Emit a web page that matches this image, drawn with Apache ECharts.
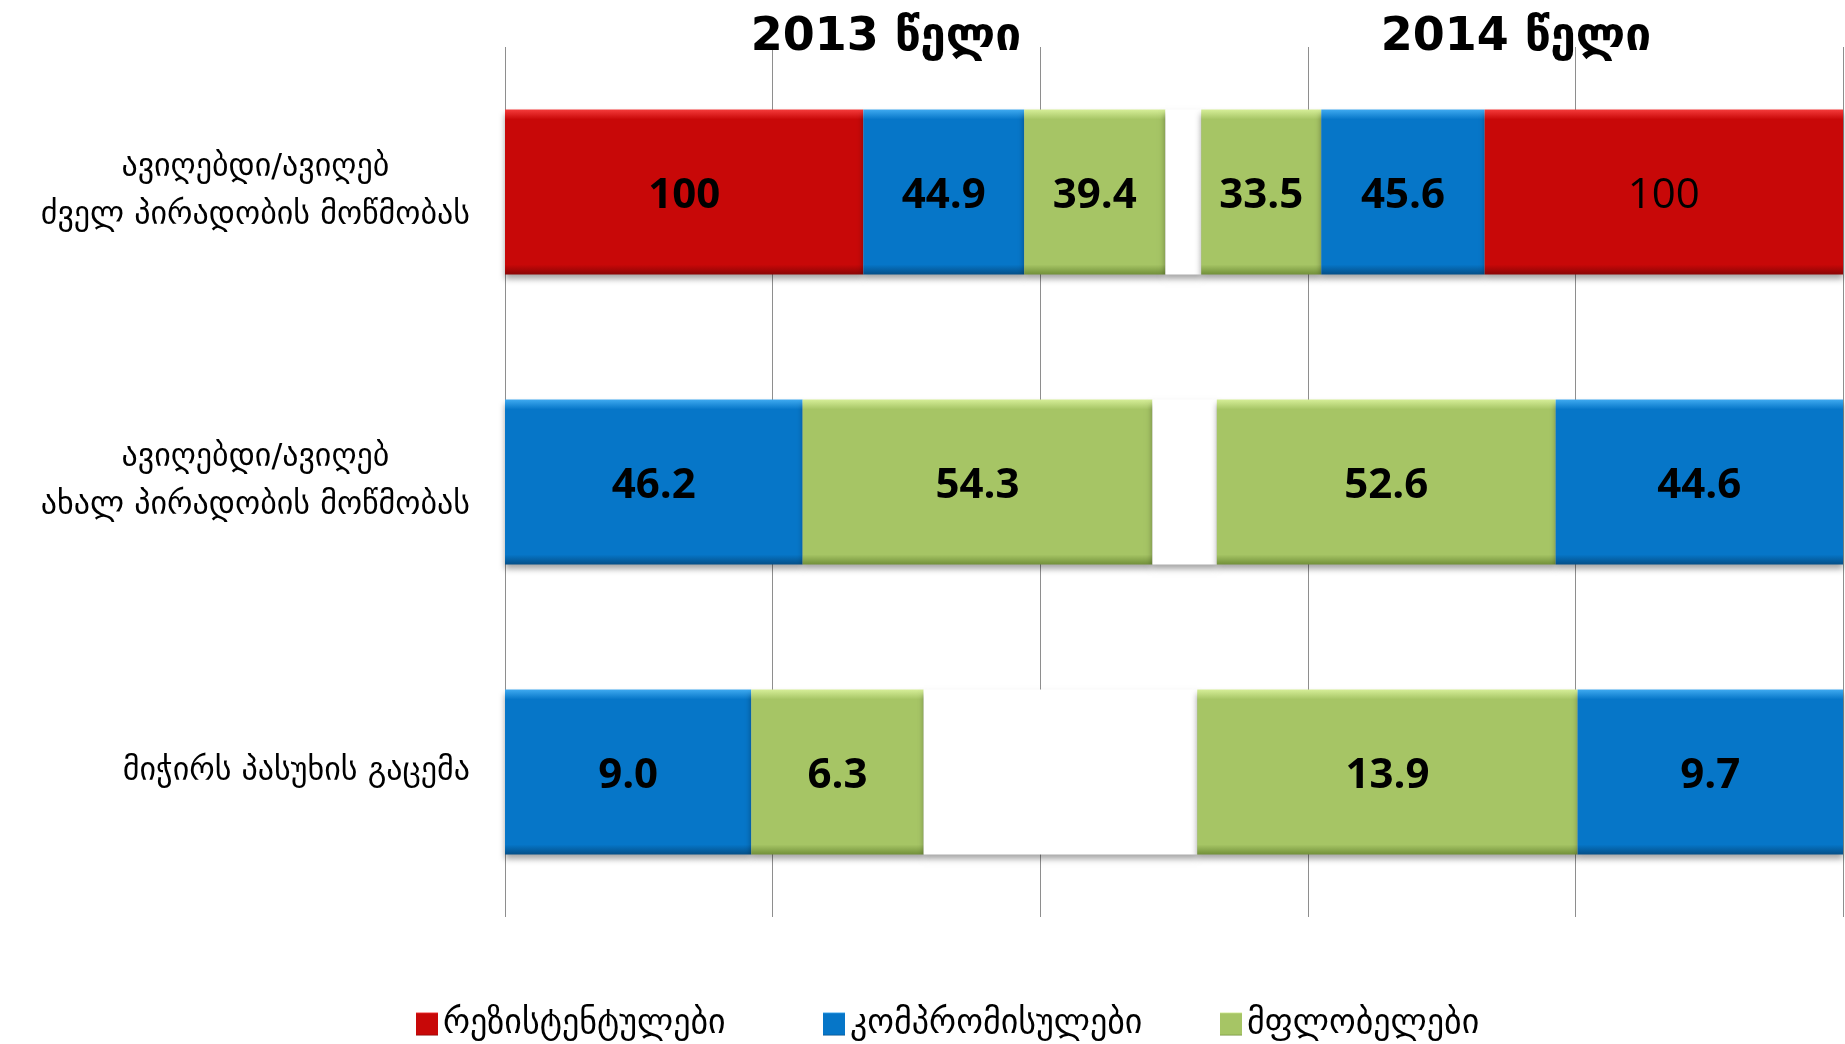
<!DOCTYPE html>
<html><head><meta charset="utf-8">
<script src="https://cdn.jsdelivr.net/npm/echarts@6/dist/echarts.min.js"></script>
<style>html,body{margin:0;padding:0;background:#fff}#c{width:1845px;height:1044px}</style>
</head><body><div id="c"></div>
<script>
// ---- data ----
const categories = [
  'ავიღებდი/ავიღებ\nძველ პირადობის მოწმობას',
  'ავიღებდი/ავიღებ\nახალ პირადობის მოწმობას',
  'მიჭირს პასუხის გაცემა'
];
const seriesNames = ['რეზისტენტულები', 'კომპრომისულები', 'მფლობელები'];
const yearTitles = ['2013 წელი', '2014 წელი'];
const resist2013 = [100, null, null];
const comp2013   = [44.9, 46.2, 9.0];
const owner2013  = [39.4, 54.3, 6.3];
const gapValues  = [10, 10, 10];
const owner2014  = [33.5, 52.6, 13.9];
const comp2014   = [45.6, 44.6, 9.7];
const resist2014 = [100, null, null];
const gridTicks  = [0, 20, 40, 60, 80, 100];

// ---- styles ----
const GEO = "'DejaVu Sans', sans-serif";
const NUM = "'Open Sans', 'DejaVu Sans', sans-serif";
function grad(top, base, bottom) {
  return new echarts.graphic.LinearGradient(0, 0, 0, 1, [
    {offset: 0, color: top}, {offset: 0.06, color: base},
    {offset: 0.94, color: base}, {offset: 1, color: bottom}
  ]);
}
const colors = {
  r: grad('#F53B3B', '#C80808', '#8A0505'),
  b: grad('#3FAAF0', '#0676C8', '#044F88'),
  g: grad('#D6EE98', '#A6C565', '#72903A'),
  w: '#ffffff'
};
const shadow = {shadowBlur: 6, shadowColor: 'rgba(0,0,0,0.35)', shadowOffsetY: 4};

const plotLeft = 505, plotWidth = 1338, plotTop = 47, band = 290, barH = 165;

const grids = [{left: plotLeft, width: plotWidth, top: plotTop, height: band * 3}];
const xAxes = [{gridIndex: 0, type: 'value', min: gridTicks[0], max: gridTicks[gridTicks.length - 1],
  interval: gridTicks[1] - gridTicks[0], axisLabel: {show: false}, axisLine: {show: false},
  axisTick: {show: false}, splitLine: {show: true, lineStyle: {color: '#8e8e8e', width: 1}}}];
const yAxes = [{gridIndex: 0, type: 'category', data: [''], show: false}];
const series = [];

const rowSeq = [
  [resist2013, 0, 'r', true], [comp2013, 1, 'b', true], [owner2013, 2, 'g', true],
  [gapValues, -1, 'w', false],
  [owner2014, 2, 'g', true], [comp2014, 1, 'b', true], [resist2014, 0, 'r', true]
];

categories.forEach((cat, i) => {
  const gi = i + 1;
  let total = 0;
  rowSeq.forEach(s => { if (s[0][i] != null) total += s[0][i]; });
  grids.push({left: plotLeft, width: plotWidth, top: plotTop + band * i, height: band});
  xAxes.push({gridIndex: gi, type: 'value', min: 0, max: total, show: false, splitLine: {show: false}});
  yAxes.push({gridIndex: gi, type: 'category', data: [cat],
    axisLine: {show: false}, axisTick: {show: false},
    axisLabel: {
      align: 'right', margin: 35, color: '#000',
      formatter: v => v.split('\n').map(l => '{a|' + l + '}').join('\n'),
      rich: {a: {align: 'center', fontSize: 32, lineHeight: 48, fontFamily: GEO, color: '#000'}}
    }});
  rowSeq.forEach((s, k) => {
    const v = s[0][i];
    if (v == null) return;
    const isGap = s[1] < 0;
    const normalWeight = (k === 6 && i === 0); // 2014 "100" label is not bold in the original
    series.push({
      type: 'bar', name: isGap ? 'gap' : seriesNames[s[1]],
      xAxisIndex: gi, yAxisIndex: gi, stack: 'row' + i, barWidth: barH,
      data: [v], silent: isGap,
      itemStyle: Object.assign({color: colors[s[2]]}, shadow),
      label: {show: s[3], position: 'inside', offset: [0, 4], color: '#000', fontFamily: NUM,
        fontSize: 42, fontWeight: normalWeight ? 'normal' : 'bold',
        formatter: p => (p.value === 100 ? '100' : p.value.toFixed(1))},
      emphasis: {disabled: true}
    });
  });
});

const legendX = [416, 823, 1220];
const legends = seriesNames.map((n, i) => ({
  data: [n], left: legendX[i], top: 1007, padding: 0, itemWidth: 22, itemHeight: 23, itemGap: 8,
  icon: 'rect', textStyle: {fontSize: 34, fontFamily: GEO, color: '#000'}, selectedMode: false
}));

const titleX = [881, 1511];
const titles = yearTitles.map((t, i) => ({
  text: t, left: titleX[i], top: 10, textAlign: 'center',
  textStyle: {fontSize: 46, fontWeight: 'bold', fontFamily: GEO, color: '#000'}
}));

const chart = echarts.init(document.getElementById('c'));
chart.setOption({
  animation: false, backgroundColor: '#fff',
  title: titles, legend: legends, grid: grids, xAxis: xAxes, yAxis: yAxes, series: series
});
</script></body></html>
